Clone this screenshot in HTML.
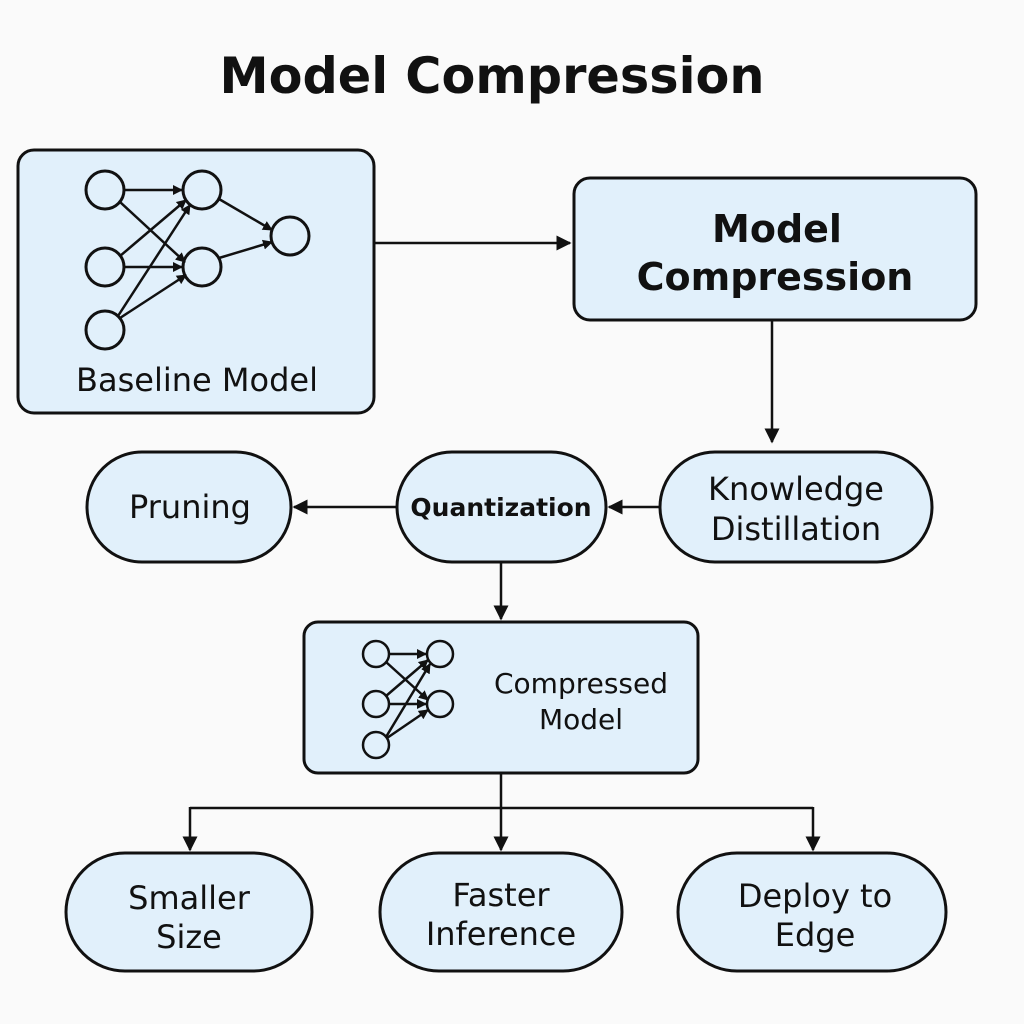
<!DOCTYPE html>
<html><head><style>
html,body{margin:0;padding:0;background:#fafafa;}
svg{display:block;}
text{font-family:"DejaVu Sans","Liberation Sans",sans-serif;fill:#111;}
</style></head><body>
<svg width="1024" height="1024" viewBox="0 0 1024 1024" xmlns="http://www.w3.org/2000/svg">
<defs>
<marker id="a" viewBox="0 0 10 10" refX="9" refY="5" markerWidth="6" markerHeight="6" orient="auto"><path d="M0,0 L10,5 L0,10 z" fill="#111"/></marker>
<marker id="s" viewBox="0 0 10 10" refX="9" refY="5" markerWidth="4" markerHeight="4" orient="auto"><path d="M0,0 L10,5 L0,10 z" fill="#111"/></marker>
</defs>
<rect width="1024" height="1024" fill="#fafafa"/>
<text x="492" y="93" text-anchor="middle" font-size="50" font-weight="bold" textLength="545" lengthAdjust="spacingAndGlyphs">Model Compression</text>
<g fill="#e1f0fb" stroke="#111" stroke-width="3">
<rect x="18" y="150" width="356" height="263" rx="16"/>
<rect x="574" y="178" width="402" height="142" rx="16"/>
<rect x="87" y="452" width="204" height="110" rx="55"/>
<rect x="397" y="452" width="209" height="110" rx="55"/>
<rect x="660" y="452" width="272" height="110" rx="55"/>
<rect x="304" y="622" width="394" height="151" rx="14"/>
<rect x="66" y="853" width="246" height="118" rx="59"/>
<rect x="380" y="853" width="242" height="118" rx="59"/>
<rect x="678" y="853" width="268" height="118" rx="59"/>
</g>
<g stroke="#111" stroke-width="2.5" fill="none">
<line x1="124" y1="190" x2="182" y2="190" marker-end="url(#s)"/>
<line x1="120" y1="202" x2="185" y2="262" marker-end="url(#s)"/>
<line x1="120" y1="256" x2="186" y2="200" marker-end="url(#s)"/>
<line x1="124" y1="267" x2="182" y2="267" marker-end="url(#s)"/>
<line x1="118" y1="316" x2="190" y2="205" marker-end="url(#s)"/>
<line x1="120" y1="318" x2="186" y2="275" marker-end="url(#s)"/>
<line x1="219" y1="199" x2="272" y2="230" marker-end="url(#s)"/>
<line x1="219" y1="258" x2="272" y2="242" marker-end="url(#s)"/>
<circle cx="105" cy="190" r="19" stroke-width="3"/>
<circle cx="105" cy="267" r="19" stroke-width="3"/>
<circle cx="105" cy="330" r="19" stroke-width="3"/>
<circle cx="202" cy="190" r="19" stroke-width="3"/>
<circle cx="202" cy="267" r="19" stroke-width="3"/>
<circle cx="290" cy="236" r="19" stroke-width="3"/>

<line x1="389" y1="654" x2="426" y2="654" marker-end="url(#s)"/>
<line x1="386" y1="662" x2="428" y2="700" marker-end="url(#s)"/>
<line x1="386" y1="696" x2="428" y2="660" marker-end="url(#s)"/>
<line x1="389" y1="704" x2="426" y2="704" marker-end="url(#s)"/>
<line x1="386" y1="737" x2="430" y2="664" marker-end="url(#s)"/>
<line x1="387" y1="738" x2="428" y2="710" marker-end="url(#s)"/>
<circle cx="376" cy="654" r="13"/>
<circle cx="376" cy="704" r="13"/>
<circle cx="376" cy="745" r="13"/>
<circle cx="440" cy="654" r="13"/>
<circle cx="440" cy="704" r="13"/>

<line x1="374" y1="243" x2="570" y2="243" marker-end="url(#a)"/>
<line x1="772" y1="320" x2="772" y2="442" marker-end="url(#a)"/>
<line x1="660" y1="507" x2="609" y2="507" marker-end="url(#a)"/>
<line x1="397" y1="507" x2="294" y2="507" marker-end="url(#a)"/>
<line x1="501" y1="562" x2="501" y2="619" marker-end="url(#a)"/>
<line x1="501" y1="773" x2="501" y2="808"/>
<line x1="190" y1="808" x2="813" y2="808"/>
<line x1="190" y1="807" x2="190" y2="850" marker-end="url(#a)"/>
<line x1="501" y1="807" x2="501" y2="850" marker-end="url(#a)"/>
<line x1="813" y1="807" x2="813" y2="850" marker-end="url(#a)"/>
</g>
<text x="197" y="391" text-anchor="middle" font-size="32">Baseline Model</text>
<text x="777" y="242" text-anchor="middle" font-size="38" font-weight="bold">Model</text>
<text x="775" y="290" text-anchor="middle" font-size="38" font-weight="bold">Compression</text>
<text x="190" y="518" text-anchor="middle" font-size="32">Pruning</text>
<text x="501" y="516" text-anchor="middle" font-size="25" font-weight="bold">Quantization</text>
<text x="796" y="500" text-anchor="middle" font-size="32">Knowledge</text>
<text x="796" y="540" text-anchor="middle" font-size="32">Distillation</text>
<text x="581" y="693" text-anchor="middle" font-size="28">Compressed</text>
<text x="581" y="729" text-anchor="middle" font-size="28">Model</text>
<text x="189" y="909" text-anchor="middle" font-size="32">Smaller</text>
<text x="189" y="948" text-anchor="middle" font-size="32">Size</text>
<text x="501" y="906" text-anchor="middle" font-size="32">Faster</text>
<text x="501" y="945" text-anchor="middle" font-size="32">Inference</text>
<text x="815" y="907" text-anchor="middle" font-size="32">Deploy to</text>
<text x="815" y="946" text-anchor="middle" font-size="32">Edge</text>
</svg>
</body></html>
